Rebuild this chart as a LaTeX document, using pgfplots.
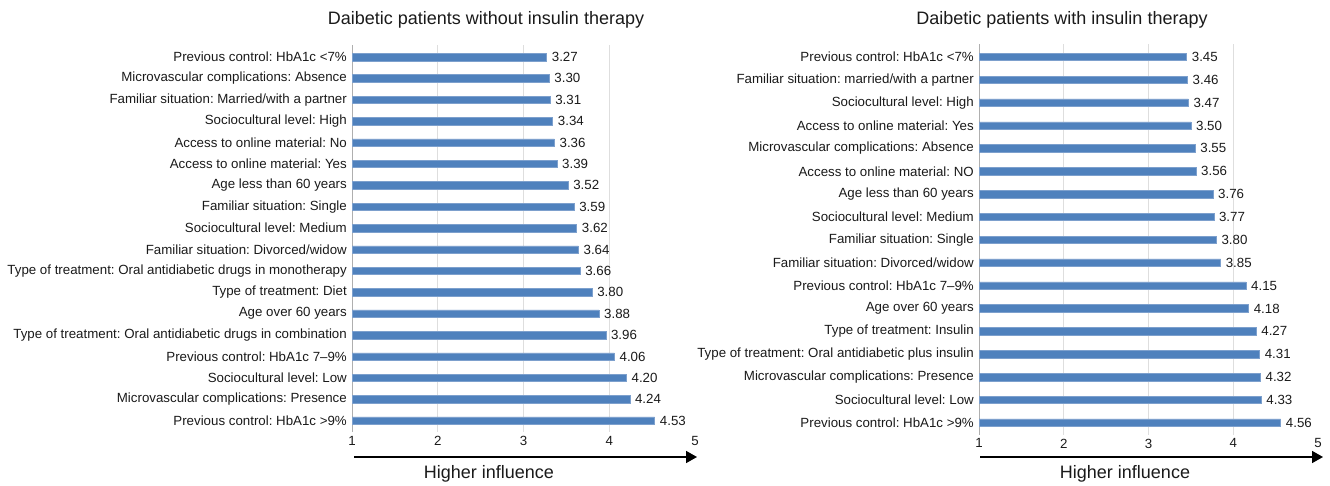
\documentclass[border=0pt]{standalone}
\usepackage{fontspec}
\setmainfont{Liberation Sans}
\usepackage{pgfplots}
\pgfplotsset{compat=1.18}
\usetikzlibrary{arrows.meta}
\definecolor{barblue}{RGB}{79,129,189}
\definecolor{baredge}{RGB}{125,160,205}
\definecolor{txt}{RGB}{26,26,26}
\definecolor{gridc}{RGB}{222,222,222}
\definecolor{axc}{RGB}{175,175,175}
\frenchspacing

\pgfplotsset{
 panel/.style={
  xbar, scale only axis, xmin=1, xmax=5, y dir=reverse,
  bar width=7.5pt,
  xtick={2,3,4}, extra x ticks={1,5}, extra x tick style={grid=none},
  xmajorgrids, grid style={draw=gridc, line width=0.7pt},
  axis x line*=bottom, axis y line*=left,
  x axis line style={draw=none}, y axis line style={draw=axc, line width=0.8pt, -},
  major tick length=0pt,
  ytick=data,
  tick label style={font=\fontsize{13.3}{15}\selectfont, text=txt},
  yticklabel style={inner sep=0pt, xshift=-5pt},
  /pgf/number format/assume math mode=true,
  point meta=x,
  nodes near coords={\pgfmathprintnumber[assume math mode=true,fixed,fixed zerofill,precision=2]{\pgfplotspointmeta}},
  nodes near coords style={font=\fontsize{13.3}{15}\selectfont, text=txt, inner sep=0pt, xshift=5pt},
 },
 bars/.style={fill=barblue, draw=baredge, line width=0.5pt},
}

\begin{document}
\begin{tikzpicture}
\useasboundingbox (0,0) rectangle (1330pt,485pt);

\begin{axis}[panel,
  at={(523.5pt,246.15pt)}, anchor=center,
  width=343pt, height=387.2pt,
  ymin=0.45, ymax=18.55,
  yticklabels={
   {Previous control: HbA1c <7\%},
   {Microvascular complications: Absence},
   {Familiar situation: Married/with a partner},
   {Sociocultural level: High},
   {Access to online material: No},
   {Access to online material: Yes},
   {Age less than 60 years},
   {Familiar situation: Single},
   {Sociocultural level: Medium},
   {Familiar situation: Divorced/widow},
   {Type of treatment: Oral antidiabetic drugs in monotherapy},
   {Type of treatment: Diet},
   {Age over 60 years},
   {Type of treatment: Oral antidiabetic drugs in combination},
   {Previous control: HbA1c 7–9\%},
   {Sociocultural level: Low},
   {Microvascular complications: Presence},
   {Previous control: HbA1c >9\%}},
]
\addplot[bars] coordinates {
 (3.27,1) (3.30,2) (3.31,3) (3.34,4) (3.36,5) (3.39,6)
 (3.52,7) (3.59,8) (3.62,9) (3.64,10) (3.66,11) (3.80,12)
 (3.88,13) (3.96,14) (4.06,15) (4.20,16) (4.24,17) (4.53,18)};
\end{axis}

\begin{axis}[panel,
  at={(1148.5pt,245.15pt)}, anchor=center,
  width=339pt, height=390.9pt,
  ymin=0.45, ymax=17.55,
  yticklabels={
   {Previous control: HbA1c <7\%},
   {Familiar situation: married/with a partner},
   {Sociocultural level: High},
   {Access to online material: Yes},
   {Microvascular complications: Absence},
   {Access to online material: NO},
   {Age less than 60 years},
   {Sociocultural level: Medium},
   {Familiar situation: Single},
   {Familiar situation: Divorced/widow},
   {Previous control: HbA1c 7–9\%},
   {Age over 60 years},
   {Type of treatment: Insulin},
   {Type of treatment: Oral antidiabetic plus insulin},
   {Microvascular complications: Presence},
   {Sociocultural level: Low},
   {Previous control: HbA1c >9\%}},
]
\addplot[bars] coordinates {
 (3.45,1) (3.46,2) (3.47,3) (3.50,4) (3.55,5) (3.56,6)
 (3.76,7) (3.77,8) (3.80,9) (3.85,10) (4.15,11) (4.18,12)
 (4.27,13) (4.31,14) (4.32,15) (4.33,16) (4.56,17)};
\end{axis}

\node[anchor=base, font=\fontsize{18}{21}\selectfont, text=txt] at (486pt,460pt) {Daibetic patients without insulin therapy};
\node[anchor=base, font=\fontsize{18}{21}\selectfont, text=txt] at (1062pt,460pt) {Daibetic patients with insulin therapy};
\draw[line width=1.6pt, -{Triangle[length=11pt,width=12pt]}] (354pt,28pt) -- (697pt,28pt);
\draw[line width=1.6pt, -{Triangle[length=11pt,width=12pt]}] (980pt,28pt) -- (1323pt,28pt);
\node[anchor=base, font=\fontsize{18}{21}\selectfont, text=txt] at (489pt,7pt) {Higher influence};
\node[anchor=base, font=\fontsize{18}{21}\selectfont, text=txt] at (1125pt,7pt) {Higher influence};
\end{tikzpicture}
\end{document}
